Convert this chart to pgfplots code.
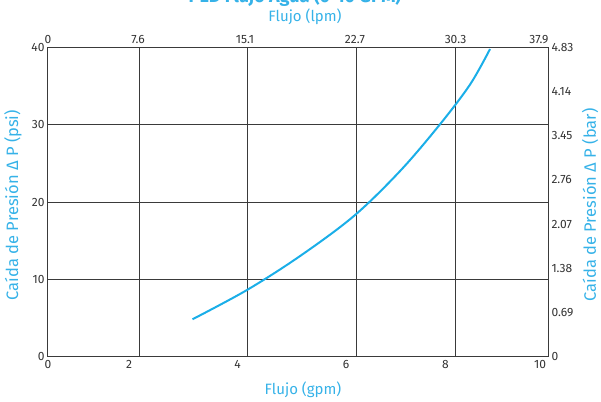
\documentclass[border=0pt]{standalone}
\usepackage{pgfplots}
\pgfplotsset{compat=1.18}
\usepackage{fontspec}
\setmainfont{Fira Sans}
\definecolor{cblue}{HTML}{1AAEE8}
\definecolor{labblue}{HTML}{36B2E8}
\definecolor{gridc}{HTML}{3A3A3A}
\definecolor{tickc}{HTML}{333333}
\begin{document}
\begin{tikzpicture}[x=1pt,y=1pt]
\begin{axis}[at={(0,0)}, anchor=south west, scale only axis, width=500pt, height=309pt,
 xmin=0,xmax=10,ymin=0,ymax=40,
 axis line style={gridc, line width=1pt},
 xtick={0,1.62,3.79,5.96,7.95,9.84}, xticklabels={0,2,4,6,8,10},
 ytick={0,10,20,30,40}, yticklabels={0,10,20,30,40},
 xticklabel pos=bottom, yticklabel pos=left,
 major tick length=0pt,
 tick label style={font=\fontsize{12}{14}\selectfont, text=tickc},
 ymajorgrids, grid style={gridc, line width=1pt},
 extra x ticks={1.82,3.99,6.17,8.14}, extra x tick labels={},
 extra x tick style={grid=major, major grid style={gridc,line width=1pt}},
 xlabel={Flujo (gpm)}, ylabel={Caída de Presión Δ P (psi)},
 xlabel style={font=\fontsize{15}{17}\selectfont, text=labblue, at={(axis description cs:0.51,-0.108)}, anchor=center},
 ylabel style={font=\fontsize{16.5}{18}\selectfont, text=labblue, at={(axis description cs:-0.07,0.49)}, anchor=center},
]
\addplot[cblue, line width=2pt, smooth, tension=0.55] coordinates {
(2.89,4.82) (3.98,8.61) (5.04,13.0) (6.12,18.2) (7.04,24.0) (7.82,29.9) (8.44,35.2) (8.84,39.8)};
\end{axis}
\begin{axis}[at={(0,0)}, anchor=south west, scale only axis, width=500pt, height=309pt,
 xmin=0,xmax=10,ymin=0,ymax=4.83,
 axis line style={draw=none},
 xtick={0,1.80,3.94,6.14,8.15,9.82}, xticklabels={0,7.6,15.1,22.7,30.3,37.9},
 ytick={0,0.69,1.38,2.07,2.76,3.45,4.14,4.83}, yticklabels={0,0.69,1.38,2.07,2.76,3.45,4.14,4.83},
 xticklabel pos=top, yticklabel pos=right,
 major tick length=0pt,
 tick label style={font=\fontsize{12}{14}\selectfont, text=tickc},
 xlabel={Flujo (lpm)}, ylabel={Caída de Presión Δ P (bar)},
 xlabel style={font=\fontsize{15}{17}\selectfont, text=labblue, at={(axis description cs:0.514,1.099)}, anchor=center},
 ylabel style={font=\fontsize{16.5}{18}\selectfont, text=labblue, at={(axis description cs:1.084,0.49)}, anchor=center},
]
\end{axis}
\node[font=\bfseries\fontsize{18}{20}\selectfont, text=labblue, anchor=base] at (247,353.5) {PED Flujo Agua (0-10 GPM)};
\pgfresetboundingbox
\useasboundingbox (-48,-44.5) rectangle (553,356.5);
\end{tikzpicture}
\end{document}
